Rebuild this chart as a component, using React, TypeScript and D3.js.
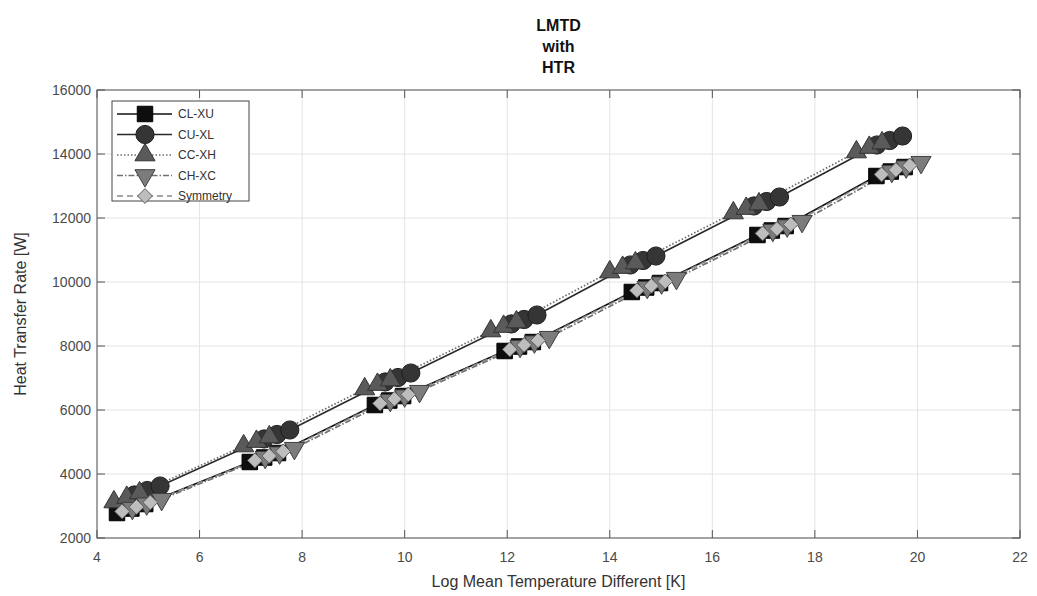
import React from 'react';
import * as d3 from 'd3';

// chart values
const xTicks = [4, 6, 8, 10, 12, 14, 16, 18, 20, 22];
const yTicks = [2000, 4000, 6000, 8000, 10000, 12000, 14000, 16000];

const clxuX = [4.39, 4.67, 4.94, 6.98, 7.26, 7.53, 9.42, 9.7, 9.97, 11.95, 12.23, 12.5, 14.43, 14.71, 14.98, 16.88, 17.16, 17.43, 19.2, 19.48, 19.75];
const clxuY = [2781, 2921, 3061, 4375, 4515, 4655, 6156, 6296, 6436, 7844, 7984, 8124, 9688, 9828, 9968, 11469, 11609, 11749, 13312, 13452, 13592];

const cuxlX = [4.73, 4.98, 5.23, 7.26, 7.51, 7.76, 9.62, 9.87, 10.12, 12.08, 12.33, 12.58, 14.4, 14.65, 14.9, 16.81, 17.06, 17.31, 19.21, 19.46, 19.71];
const cuxlY = [3345, 3485, 3625, 5095, 5235, 5375, 6876, 7016, 7156, 8689, 8829, 8969, 10532, 10672, 10812, 12376, 12516, 12656, 14282, 14422, 14562];

const ccxhX = [4.33, 4.58, 4.83, 6.86, 7.11, 7.36, 9.22, 9.47, 9.72, 11.68, 11.93, 12.18, 14.0, 14.25, 14.5, 16.41, 16.66, 16.91, 18.81, 19.06, 19.31];
const ccxhY = [3125, 3265, 3405, 4875, 5015, 5155, 6656, 6796, 6936, 8469, 8609, 8749, 10312, 10452, 10592, 12156, 12296, 12436, 14062, 14202, 14342];

const chxcX = [4.69, 4.97, 5.26, 7.28, 7.56, 7.85, 9.72, 10.0, 10.29, 12.25, 12.53, 12.82, 14.73, 15.01, 15.3, 17.18, 17.46, 17.75, 19.5, 19.78, 20.07];
const chxcY = [2931, 3071, 3211, 4525, 4665, 4805, 6306, 6446, 6586, 7994, 8134, 8274, 9838, 9978, 10118, 11619, 11759, 11899, 13462, 13602, 13742];

const symX = [4.49, 4.77, 5.04, 7.08, 7.36, 7.63, 9.52, 9.8, 10.07, 12.05, 12.33, 12.6, 14.53, 14.81, 15.08, 16.98, 17.26, 17.53, 19.3, 19.58, 19.85];
const symY = [2831, 2971, 3111, 4425, 4565, 4705, 6206, 6346, 6486, 7894, 8034, 8174, 9738, 9878, 10018, 11519, 11659, 11799, 13362, 13502, 13642];

const seriesNames = ['CL-XU', 'CU-XL', 'CC-XH', 'CH-XC', 'Symmetry'];

const W = 1037, H = 596;
const font = 'Liberation Sans, Arial, Helvetica, sans-serif';

const diamond = (d3 as any).symbolDiamond2 || d3.symbolDiamond;

const styles = [
  { xs: clxuX, ys: clxuY, line: '#111', dash: null, sym: d3.symbolSquare, size: 240, fill: '#0e0e0e', stroke: '#000', rot: 0 },
  { xs: cuxlX, ys: cuxlY, line: '#2a2a2a', dash: null, sym: d3.symbolCircle, size: 260, fill: '#353535', stroke: '#1e1e1e', rot: 0 },
  { xs: ccxhX, ys: ccxhY, line: '#6a6a6a', dash: '1.5,2', sym: d3.symbolTriangle, size: 175, fill: '#5a5a5a', stroke: '#333', rot: 0 },
  { xs: chxcX, ys: chxcY, line: '#707070', dash: '6,2,1.5,2', sym: d3.symbolTriangle, size: 175, fill: '#7c7c7c', stroke: '#3e3e3e', rot: 180 },
  { xs: symX, ys: symY, line: '#8a8a8a', dash: '6,4', sym: diamond, size: 140, fill: '#bdbdbd', stroke: '#5e5e5e', rot: 0 },
];

export default function App() {
  const x = d3.scaleLinear().domain([4, 22]).range([97, 1020]);
  const y = d3.scaleLinear().domain([2000, 16000]).range([538, 90]);
  const line = d3.line<[number, number]>().x(d => x(d[0])).y(d => y(d[1]));

  const left = x(4), right = x(22), top = y(16000), bottom = y(2000);

  return (
    <svg width={W} height={H} style={{ position: 'absolute', left: 0, top: 0, background: '#fff' }} fontFamily={font}>
      <rect x={0} y={0} width={W} height={H} fill="#fff" />
      {/* grid */}
      {xTicks.map(t => (
        <line key={'gx' + t} x1={x(t)} x2={x(t)} y1={top} y2={bottom} stroke="#e4e4e4" strokeWidth={1} />
      ))}
      {yTicks.map(t => (
        <line key={'gy' + t} x1={left} x2={right} y1={y(t)} y2={y(t)} stroke="#e4e4e4" strokeWidth={1} />
      ))}

      {/* series lines */}
      {styles.map((s, i) => (
        <path key={'l' + i} d={line(s.xs.map((v, j) => [v, s.ys[j]] as [number, number])) || ''}
          fill="none" stroke={s.line} strokeWidth={1.7} strokeDasharray={s.dash || undefined} />
      ))}
      {/* markers */}
      {styles.map((s, i) => (
        <g key={'m' + i}>
          {s.xs.map((v, j) => (
            <path key={j} d={d3.symbol(s.sym, s.size)() || ''}
              transform={`translate(${x(v)},${y(s.ys[j])}) rotate(${s.rot})`}
              fill={s.fill} stroke={s.stroke} strokeWidth={1} />
          ))}
        </g>
      ))}

      {/* axes box */}
      <rect x={left} y={top} width={right - left} height={bottom - top} fill="none" stroke="#555" strokeWidth={1} />
      {xTicks.map(t => (
        <g key={'xt' + t}>
          <line x1={x(t)} x2={x(t)} y1={bottom} y2={bottom - 8} stroke="#555" />
          <line x1={x(t)} x2={x(t)} y1={top} y2={top + 8} stroke="#555" />
          <text x={x(t)} y={bottom + 24} textAnchor="middle" fontSize={14} fill="#4a4a4a">{t}</text>
        </g>
      ))}
      {yTicks.map(t => (
        <g key={'yt' + t}>
          <line x1={left} x2={left + 8} y1={y(t)} y2={y(t)} stroke="#555" />
          <line x1={right} x2={right - 8} y1={y(t)} y2={y(t)} stroke="#555" />
          <text x={left - 6} y={y(t) + 5} textAnchor="end" fontSize={14} fill="#4a4a4a">{t}</text>
        </g>
      ))}

      {/* labels */}
      <text x={(left + right) / 2} y={587} textAnchor="middle" fontSize={16} fill="#333">Log Mean Temperature Different [K]</text>
      <text transform={`translate(26,${(top + bottom) / 2}) rotate(-90)`} textAnchor="middle" fontSize={16} fill="#333">Heat Transfer Rate [W]</text>
      <text x={(left + right) / 2} y={31} textAnchor="middle" fontSize={16} fontWeight="bold" fill="#111">LMTD</text>
      <text x={(left + right) / 2} y={52} textAnchor="middle" fontSize={16} fontWeight="bold" fill="#111">with</text>
      <text x={(left + right) / 2} y={73} textAnchor="middle" fontSize={16} fontWeight="bold" fill="#111">HTR</text>

      {/* legend */}
      <rect x={112} y={101} width={137} height={100} fill="#fff" stroke="#444" strokeWidth={1} />
      {styles.map((s, i) => {
        const ly = 114 + i * 20.5;
        return (
          <g key={'lg' + i}>
            <line x1={117} x2={172} y1={ly} y2={ly} stroke={s.line} strokeWidth={1.7} strokeDasharray={s.dash || undefined} />
            <path d={d3.symbol(s.sym, s.size)() || ''} transform={`translate(145,${ly}) rotate(${s.rot})`}
              fill={s.fill} stroke={s.stroke} strokeWidth={1} />
            <text x={178} y={ly + 4} fontSize={12} fill="#333">{seriesNames[i]}</text>
          </g>
        );
      })}
    </svg>
  );
}
